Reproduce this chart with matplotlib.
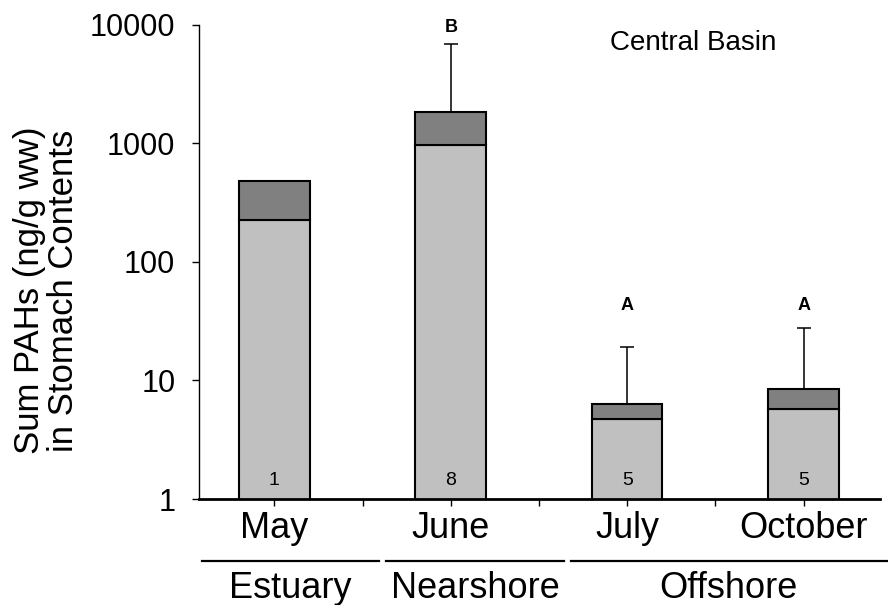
import numpy as np
import matplotlib
matplotlib.use("Agg")
import matplotlib.pyplot as plt
from matplotlib.ticker import FixedLocator, NullFormatter

plt.rcParams["font.family"] = ["Liberation Sans", "DejaVu Sans"]

# stomach content PAHs, central basin
months = ["May", "June", "July", "October"]
lower_part = [226, 977, 4.71, 5.78]
total_sum = [483, 1855, 6.34, 8.53]
err_top = [np.nan, 6877, 19.2, 27.6]
n_fish = [1, 8, 5, 5]
sig_letters = ["", "B", "A", "A"]
letter_y = [np.nan, 9600, 43, 43]

groups = ["Estuary", "Nearshore", "Offshore"]
group_edges = [(-0.41, 0.595), (0.635, 1.64), (1.68, 3.47)]

fig = plt.figure(figsize=(8.88, 6.05), dpi=100)
ax = fig.add_axes([0.2241, 0.1752, 0.7669, 0.7835])

x = np.arange(len(months))
upper_part = [t - l for t, l in zip(total_sum, lower_part)]
ax.bar(x, lower_part, width=0.40, bottom=0, color="#C0C0C0",
       edgecolor="black", linewidth=1.5, zorder=2)
ax.bar(x, upper_part, width=0.40, bottom=lower_part, color="#808080",
       edgecolor="black", linewidth=1.5, zorder=2)

has_err = ~np.isnan(err_top)
tops = np.array(total_sum)[has_err]
ax.errorbar(x[has_err], tops,
            yerr=[np.zeros(has_err.sum()), np.array(err_top)[has_err] - tops],
            fmt="none", ecolor="black", elinewidth=1.1, capsize=5.3,
            capthick=1.1, zorder=1)

for xi, let, ly in zip(x, sig_letters, letter_y):
    if let:
        ax.text(xi, ly, let, ha="center", va="center", fontsize=13,
                fontweight="bold")

for xi, n in zip(x, n_fish):
    ax.annotate(str(n), xy=(xi, 1), xytext=(0, 13.5),
                textcoords="offset points", ha="center", va="center",
                fontsize=14, zorder=3)

ax.set_yscale("log")
ax.set_ylim(1, 10000)
ax.set_xlim(-0.427, 3.433)
ax.set_yticks([1, 10, 100, 1000, 10000])
ax.set_yticklabels(["1", "10", "100", "1000", "10000"])
ax.yaxis.set_minor_locator(FixedLocator([]))
ax.yaxis.set_minor_formatter(NullFormatter())
ax.set_xticks(x)
ax.set_xticklabels(months)
ax.xaxis.set_minor_locator(FixedLocator([0.5, 1.5, 2.5]))

ax.tick_params(axis="y", which="major", labelsize=22, length=7 * 0.72,
               width=1, pad=12, direction="out")
ax.tick_params(axis="x", which="both", labelsize=26, length=7 * 0.72,
               width=1, pad=3.5, direction="out")

for side in ["top", "right"]:
    ax.spines[side].set_visible(False)
ax.spines["left"].set_linewidth(1.0)
ax.spines["bottom"].set_linewidth(2.0)

# region brackets under the month labels
trans = ax.get_xaxis_transform()
for name, (lo, hi) in zip(groups, group_edges):
    ax.plot([lo, hi], [-0.131, -0.131], color="black", linewidth=1.6,
            transform=trans, clip_on=False)
    ax.text((lo + hi) / 2, -0.188, name, transform=trans, ha="center",
            va="center", fontsize=26)

ax.text(0.725, 0.962, "Central Basin", transform=ax.transAxes, ha="center",
        va="center", fontsize=20)

fig.text(0.0524, 0.52, "Sum PAHs (ng/g ww)\nin Stomach Contents",
         rotation=90, ha="center", va="center", multialignment="center",
         fontsize=25, linespacing=1.05)

fig.savefig("out.png", dpi=100, facecolor="white")
